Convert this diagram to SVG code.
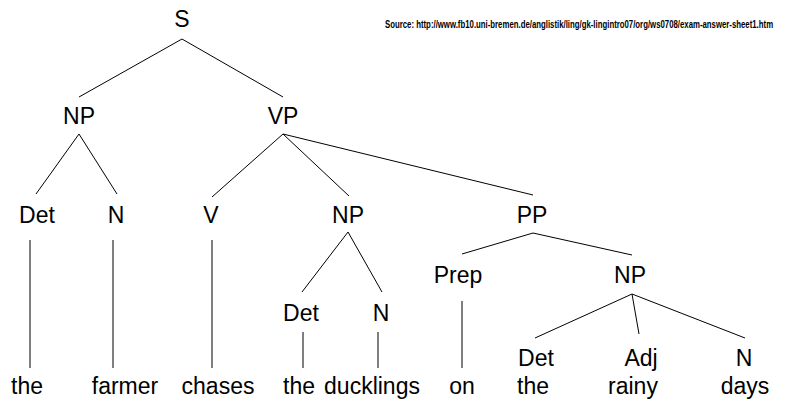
<svg xmlns="http://www.w3.org/2000/svg" width="788" height="407" viewBox="0 0 788 407">
<style>
text{font-family:"Liberation Sans",Arial,sans-serif;font-size:23px;fill:#000;text-anchor:middle}
.src{font-size:10px;font-weight:bold;text-anchor:start}
line{stroke:#000;stroke-width:1}
</style>
<rect width="788" height="407" fill="#fff"/>
<g id="source" transform="translate(385,28) scale(0.72,1)">
<text class="src" x="0" y="0" textLength="539" lengthAdjust="spacingAndGlyphs">Source: http://www.fb10.uni-bremen.de/anglistik/ling/gk-lingintro07/org/ws0708/exam-answer-sheet1.htm</text>
</g>
<g id="connectors">
<line x1="182" y1="39" x2="79" y2="97"/>
<line x1="182" y1="39" x2="283" y2="97"/>
<line x1="79" y1="134" x2="36" y2="194"/>
<line x1="79" y1="134" x2="117" y2="194"/>
<line x1="283" y1="134" x2="212" y2="197"/>
<line x1="283" y1="134" x2="349" y2="196"/>
<line x1="283" y1="134" x2="533" y2="195"/>
<line x1="30" y1="240" x2="30" y2="368"/>
<line x1="113" y1="240" x2="113" y2="368"/>
<line x1="212" y1="240" x2="212" y2="368"/>
<line x1="348" y1="232" x2="302" y2="292"/>
<line x1="348" y1="232" x2="382" y2="292"/>
<line x1="303" y1="332" x2="303" y2="368"/>
<line x1="378" y1="332" x2="378" y2="368"/>
<line x1="533" y1="233" x2="462" y2="254"/>
<line x1="533" y1="233" x2="632" y2="255"/>
<line x1="462" y1="301" x2="462" y2="368"/>
<line x1="632" y1="294" x2="535" y2="338"/>
<line x1="632" y1="294" x2="639" y2="334"/>
<line x1="632" y1="294" x2="745" y2="338"/>
</g>
<g id="S"><text x="182" y="27">S</text></g>
<g id="NP1"><text x="79" y="124">NP</text></g>
<g id="VP"><text x="283" y="124">VP</text></g>
<g id="Det1"><text x="37" y="223">Det</text></g>
<g id="N1"><text x="116" y="223">N</text></g>
<g id="V"><text x="211" y="223">V</text></g>
<g id="NP2"><text x="348" y="223">NP</text></g>
<g id="PP"><text x="532" y="223">PP</text></g>
<g id="Det2"><text x="301" y="321">Det</text></g>
<g id="N2"><text x="381" y="321">N</text></g>
<g id="Prep"><text x="458" y="283">Prep</text></g>
<g id="NP3"><text x="630" y="283">NP</text></g>
<g id="Det3"><text x="536" y="366">Det</text></g>
<g id="Adj"><text x="641" y="366">Adj</text></g>
<g id="N3"><text x="744" y="366">N</text></g>
<g id="w-the1"><text x="27" y="394">the</text></g>
<g id="w-farmer"><text x="125" y="394">farmer</text></g>
<g id="w-chases"><text x="218" y="394">chases</text></g>
<g id="w-the2"><text x="299" y="394">the</text></g>
<g id="w-ducklings"><text x="372" y="394">ducklings</text></g>
<g id="w-on"><text x="462" y="394">on</text></g>
<g id="w-the3"><text x="533" y="394">the</text></g>
<g id="w-rainy"><text x="633" y="394">rainy</text></g>
<g id="w-days"><text x="745" y="394">days</text></g>
</svg>
